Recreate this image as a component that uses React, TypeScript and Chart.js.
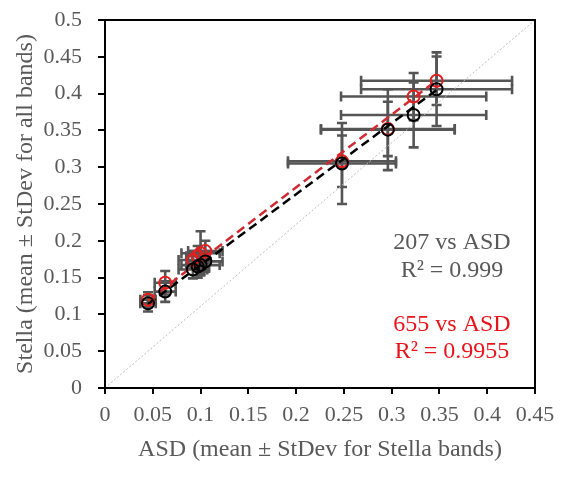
import React, { useEffect, useRef } from "react";
import { Chart, registerables } from "chart.js";

Chart.register(...registerables);

// ASD (x) mean and StDev
const asdMean = [0.045, 0.063, 0.092, 0.097, 0.100, 0.105, 0.248, 0.296, 0.323, 0.347];
const asdSd = [0.008, 0.011, 0.015, 0.012, 0.020, 0.018, 0.0565, 0.070, 0.076, 0.079];
// Stella 207 (black)
const stella207 = [0.115, 0.131, 0.161, 0.165, 0.167, 0.172, 0.305, 0.351, 0.371, 0.406];
const sd207 = [0.011, 0.014, 0.012, 0.015, 0.012, 0.014, 0.055, 0.055, 0.044, 0.050];
// Stella 655 (red)
const stella655 = [0.120, 0.143, 0.174, 0.179, 0.183, 0.186, 0.308, 0.352, 0.396, 0.4175];
const sd655 = [0.010, 0.016, 0.012, 0.014, 0.030, 0.014, 0.035, 0.037, 0.032, 0.033];
// Trend lines
const trendX = [0.045, 0.347];
const trend207 = [0.114, 0.405];
const trend655 = [0.119, 0.418];
// Corner-to-corner reference line
const diagX = [0, 0.45];
const diagY = [0, 0.5];

const annotations = [
  { text: "207 vs ASD", color: "#595959" },
  { text: "R² = 0.999", color: "#595959" },
  { text: "655 vs ASD", color: "#e8141b" },
  { text: "R² = 0.9955", color: "#e8141b" },
];

const SERIF = "'Liberation Serif', 'Times New Roman', serif";
const GRAY = "#595959";
const RED = "#e41e1e";
const RED_LINE = "#d02a32";

const fmt = (v: number) => String(Math.round(v * 100) / 100);

function pts(xs: number[], ys: number[]) {
  return xs.map((x, i) => ({ x, y: ys[i] }));
}

const errorBarPlugin = {
  id: "errorBars",
  beforeDatasetsDraw(chart: any) {
    const { ctx, scales } = chart;
    const xs = scales.x;
    const ys = scales.y;
    const cap = 5;
    ctx.save();
    ctx.strokeStyle = "#555555";
    ctx.lineWidth = 2.6;
    const series = [
      { y: stella207, sd: sd207 },
      { y: stella655, sd: sd655 },
    ];
    for (const s of series) {
      for (let i = 0; i < asdMean.length; i++) {
        const px = xs.getPixelForValue(asdMean[i]);
        const py = ys.getPixelForValue(s.y[i]);
        const xl = xs.getPixelForValue(asdMean[i] - asdSd[i]);
        const xr = xs.getPixelForValue(asdMean[i] + asdSd[i]);
        const yt = ys.getPixelForValue(s.y[i] + s.sd[i]);
        const yb = ys.getPixelForValue(s.y[i] - s.sd[i]);
        ctx.beginPath();
        ctx.moveTo(xl, py);
        ctx.lineTo(xr, py);
        ctx.moveTo(xl, py - cap);
        ctx.lineTo(xl, py + cap);
        ctx.moveTo(xr, py - cap);
        ctx.lineTo(xr, py + cap);
        ctx.moveTo(px, yt);
        ctx.lineTo(px, yb);
        ctx.moveTo(px - cap, yt);
        ctx.lineTo(px + cap, yt);
        ctx.moveTo(px - cap, yb);
        ctx.lineTo(px + cap, yb);
        ctx.stroke();
      }
    }
    ctx.restore();
  },
  afterDraw(chart: any) {
    const { ctx, chartArea } = chart;
    ctx.save();
    ctx.strokeStyle = "#000";
    ctx.lineWidth = 2;
    ctx.strokeRect(chartArea.left, chartArea.top, chartArea.right - chartArea.left, chartArea.bottom - chartArea.top);
    ctx.font = `24px ${SERIF}`;
    ctx.textAlign = "center";
    ctx.textBaseline = "middle";
    const ys = [243, 271, 325, 352];
    annotations.forEach((a, i) => {
      ctx.fillStyle = a.color;
      ctx.fillText(a.text, 452, ys[i]);
    });
    ctx.restore();
  },
};

export default function App() {
  const ref = useRef<HTMLCanvasElement | null>(null);
  useEffect(() => {
    if (!ref.current) return;
    const chart = new Chart(ref.current, {
      type: "scatter",
      data: {
        datasets: [
          {
            type: "line",
            data: pts(asdMean, stella207),
            showLine: false,
            pointRadius: 6,
            pointHoverRadius: 6,
            pointBorderWidth: 2,
            pointBackgroundColor: "rgba(0,0,0,0)",
            pointBorderColor: "#000",
            borderColor: "#000",
            order: 1,
          } as any,
          {
            type: "line",
            data: pts(asdMean, stella655),
            showLine: false,
            pointRadius: 6,
            pointHoverRadius: 6,
            pointBorderWidth: 2,
            pointBackgroundColor: "rgba(0,0,0,0)",
            pointBorderColor: RED,
            borderColor: RED,
            order: 2,
          } as any,
          {
            type: "line",
            data: pts(trendX, trend207),
            borderColor: "#000",
            borderWidth: 2.5,
            borderDash: [9, 5],
            pointRadius: 0,
            fill: false,
            order: 3,
          } as any,
          {
            type: "line",
            data: pts(trendX, trend655),
            borderColor: RED_LINE,
            borderWidth: 2.5,
            borderDash: [9, 5],
            pointRadius: 0,
            fill: false,
            order: 4,
          } as any,
          {
            type: "line",
            data: pts(diagX, diagY),
            borderColor: "#bdbdbd",
            borderWidth: 1,
            borderDash: [2, 2],
            pointRadius: 0,
            fill: false,
            order: 5,
          } as any,
        ],
      },
      options: {
        responsive: false,
        animation: false,
        layout: { padding: { left: 0, right: 32, top: 20, bottom: 0 } },
        plugins: { legend: { display: false }, tooltip: { enabled: false } },
        scales: {
          x: {
            type: "linear",
            min: 0,
            max: 0.45,
            afterFit: (s: any) => {
              s.height = 113;
              s.paddingLeft = 0;
              s.paddingRight = 0;
            },
            ticks: {
              stepSize: 0.05,
              color: GRAY,
              font: { family: SERIF, size: 22 },
              padding: 8,
              maxRotation: 0,
              autoSkip: false,
              callback: (v: any) => fmt(Number(v)),
            },
            grid: { drawOnChartArea: false, drawTicks: true, tickLength: 6, color: "#000", lineWidth: 2 },
            border: { display: true, color: "#000", width: 2 },
            title: {
              display: true,
              text: "ASD (mean ± StDev for Stella bands)",
              color: GRAY,
              font: { family: SERIF, size: 24 },
              padding: { top: 0, bottom: 37 },
            },
          },
          y: {
            type: "linear",
            min: 0,
            max: 0.5,
            afterFit: (s: any) => {
              s.width = 105;
              s.paddingTop = 0;
              s.paddingBottom = 0;
            },
            ticks: {
              stepSize: 0.05,
              color: GRAY,
              font: { family: SERIF, size: 22 },
              padding: 16,
              autoSkip: false,
              callback: (v: any) => fmt(Number(v)),
            },
            grid: { drawOnChartArea: false, drawTicks: true, tickLength: 7, color: "#000", lineWidth: 2 },
            border: { display: true, color: "#000", width: 2 },
            title: {
              display: true,
              text: "Stella (mean ± StDev for all bands)",
              color: GRAY,
              font: { family: SERIF, size: 24 },
              padding: { top: 11, bottom: 0 },
            },
          },
        },
      },
      plugins: [errorBarPlugin],
    });
    return () => chart.destroy();
  }, []);
  return (
    <div style={{ position: "absolute", left: 0, top: 0, width: 567, height: 501, background: "#fff" }}>
      <canvas ref={ref} width={567} height={501} />
    </div>
  );
}
